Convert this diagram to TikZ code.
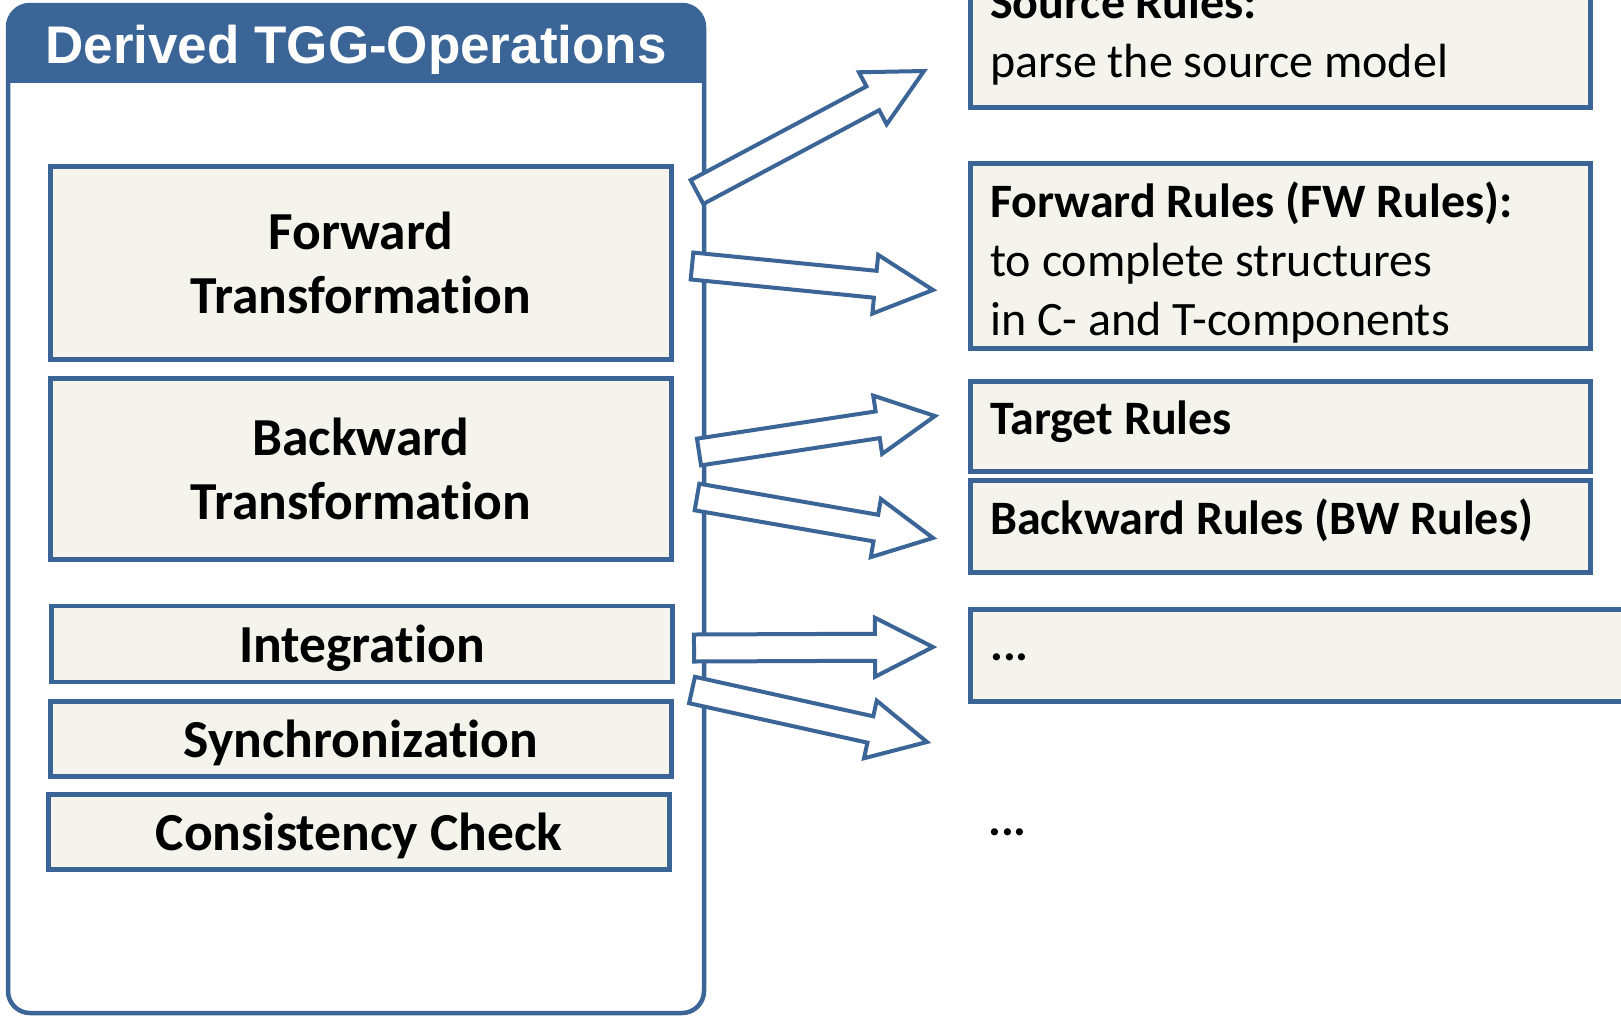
\documentclass[tikz,border=0pt]{standalone}
\usepackage{fontspec}
\setmainfont{Carlito}[Ligatures={NoCommon,NoRare,NoContextual}, Contextuals=NoAlternate]
\newfontfamily\headfont{Liberation Sans}
\usetikzlibrary{calc}

\definecolor{tggblue}{RGB}{59,101,151}
\definecolor{tggpaper}{RGB}{244,244,237}

% hollow block arrow from tail #1 to tip #2
\newcommand{\blockarrow}[2]{%
  \draw[flatarrow] let \p1=(#1), \p2=(#2),
    \n1={atan2(\y2-\y1,\x2-\x1)}, \n2={veclen(\x2-\x1,\y2-\y1)} in
    [shift={(\p1)}, rotate=\n1]
    (0pt,-13.5pt) -- (\n2-58pt,-13.5pt) -- (\n2-58pt,-29.5pt) -- (\n2,0pt)
    -- (\n2-58pt,29.5pt) -- (\n2-58pt,13.5pt) -- (0pt,13.5pt) -- cycle;}

\begin{document}
\begin{tikzpicture}[x=1pt, y=-1pt,
    frame/.style={draw=tggblue, line width=4.5pt, rounded corners=22pt},
    opbox/.style={draw=tggblue, line width=4.5pt, fill=tggpaper, minimum width=621pt,
      inner sep=0pt, align=center, font=\fontsize{53.5}{64}\selectfont\bfseries},
    oneline/.style={text height=37pt, text depth=1pt},
    rulebox/.style={draw=tggblue, line width=4.5pt, fill=tggpaper, anchor=north west,
      minimum width=620pt, text width=580pt, inner xsep=20pt, inner ysep=0pt,
      align=left, font=\fontsize{48}{59}\selectfont,
      execute at begin node={\spaceskip=0pt\xspaceskip=0pt\relax}},
    flatarrow/.style={draw=tggblue, line width=4pt, fill=white, line join=miter}]
    \useasboundingbox (0,0) rectangle (1621,1015);

    % Derived operations frame
    \begin{scope}
        \clip (0,0) rectangle (720,82);
        \fill[tggblue, rounded corners=22pt] (8,5) rectangle (704,1013);
    \end{scope}
    \draw[frame] (8,5) rectangle (704,1013);
    \node[anchor=base, inner sep=0pt, text=white,
          font=\fontsize{53}{60}\selectfont\headfont\bfseries] (title) at (356,63) {Derived TGG-Operations};

    \node[opbox, minimum height=193pt] (fwd)  at (361,263) {Forward\\Transformation};
    \node[opbox, minimum height=181pt] (bwd)  at (361,469) {Backward\\Transformation};
    \node[opbox, oneline, minimum height=76pt] (intg) at (362,644) {Integration};
    \node[opbox, oneline, minimum height=75pt] (sync) at (361,739) {Synchronization};
    \node[opbox, oneline, minimum height=75pt] (cons) at (359,832) {Consistency Check};

    % Rule boxes
    \node[rulebox, minimum height=145pt] (src) at (968,-40)
        {\textbf{Source Rules:}\\parse the source model};
    \node[rulebox, minimum height=185pt, text height=50pt] (fwr) at (968,161)
        {\textbf{Forward Rules (FW Rules):}\\to complete structures\\in C- and T-components};
    \node[rulebox, minimum height=90pt, text height=33pt, text depth=17pt] (trg) at (968,379)
        {\textbf{Target Rules}};
    \node[rulebox, minimum height=92pt, text height=33pt, text depth=17pt] (bwr) at (968,478)
        {\textbf{Backward Rules (BW Rules)}};
    \node[rulebox, minimum height=92pt, minimum width=700pt, text width=660pt, text height=10pt]
        (more) at (968,607) {\textbf{...}};
    \node[anchor=base west, inner sep=0pt, font=\fontsize{48}{59}\selectfont\bfseries] (etc) at (988,835) {...};

    % Effect arrows
    \coordinate (fwdA) at (697,192);  \coordinate (srcT) at (924,71);
    \coordinate (fwdB) at (692,266);  \coordinate (fwrT) at (933,290);
    \coordinate (bwdA) at (699,452);  \coordinate (trgT) at (935,416);
    \coordinate (bwdB) at (697,497);  \coordinate (bwrT) at (933,538);
    \coordinate (intA) at (694,648);  \coordinate (morT) at (933,647);
    \coordinate (intB) at (692,690);  \coordinate (etcT) at (927,742);
    \blockarrow{fwdA}{srcT}
    \blockarrow{fwdB}{fwrT}
    \blockarrow{bwdA}{trgT}
    \blockarrow{bwdB}{bwrT}
    \blockarrow{intA}{morT}
    \blockarrow{intB}{etcT}
\end{tikzpicture}
\end{document}
